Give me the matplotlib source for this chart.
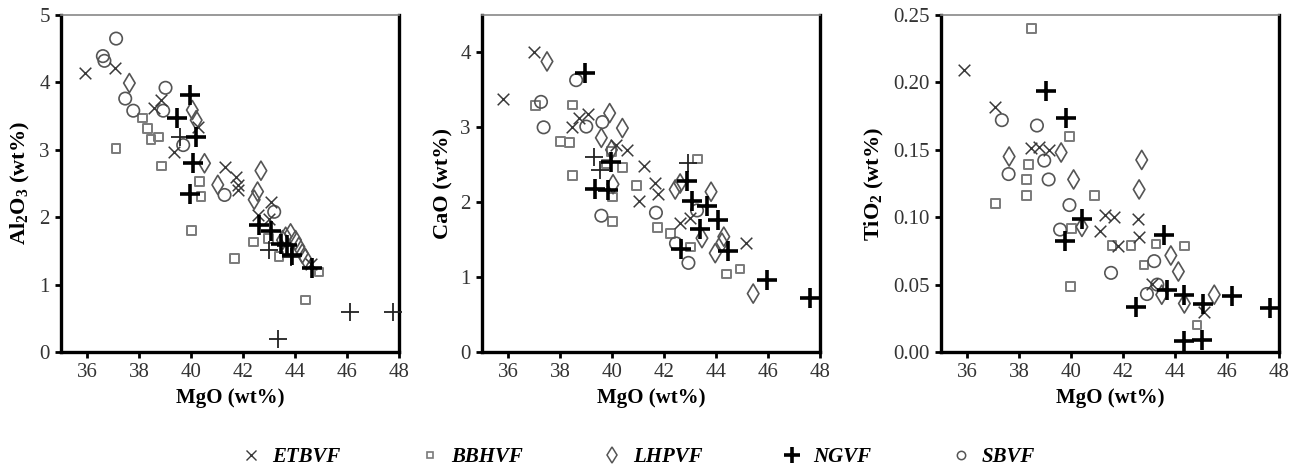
import matplotlib
matplotlib.use('Agg')
import matplotlib.pyplot as plt
from matplotlib.lines import Line2D

plt.rcParams['font.family'] = ['Liberation Serif', 'DejaVu Serif']
plt.rcParams['mathtext.fontset'] = 'custom'
plt.rcParams['mathtext.rm'] = 'Liberation Serif'
plt.rcParams['mathtext.bf'] = 'Liberation Serif:bold'

## Data ##
#-----------------------------------------------------------------------------------------------------------------------
# Panel 1: Al2O3 vs MgO
al_etbvf_mgo = [35.94, 37.06, 38.59, 38.84, 39.34, 40.27, 41.29, 41.73, 41.80, 41.80, 43.07, 42.56, 43.00, 44.60]
al_etbvf_val = [4.14, 4.21, 3.62, 3.74, 2.96, 3.34, 2.75, 2.60, 2.48, 2.40, 2.23, 2.03, 1.98, 1.30]
al_bbhvf_mgo = [38.14, 38.33, 38.46, 38.74, 38.87, 37.12, 40.33, 40.39, 40.01, 41.67, 42.41, 42.97, 43.39, 44.41, 44.92]
al_bbhvf_val = [3.47, 3.32, 3.15, 3.19, 2.76, 3.02, 2.53, 2.31, 1.80, 1.39, 1.63, 1.68, 1.42, 0.77, 1.19]
al_lhpvf_mgo = [37.63, 40.05, 40.20, 40.52, 42.69, 42.56, 42.43, 41.03, 43.83, 43.64, 44.02, 44.15, 44.28, 44.40, 43.52]
al_lhpvf_val = [3.99, 3.59, 3.44, 2.80, 2.69, 2.38, 2.26, 2.48, 1.76, 1.71, 1.66, 1.56, 1.46, 1.39, 1.66]
al_ngvf_mgo = [39.95, 39.48, 40.20, 40.07, 39.95, 42.62, 43.07, 43.45, 43.70, 43.90, 44.66]
al_ngvf_val = [3.81, 3.47, 3.19, 2.80, 2.35, 1.88, 1.79, 1.60, 1.59, 1.44, 1.24]
al_ngvf2_mgo = [39.59, 43.00, 43.36, 46.10, 47.76, 43.83]
al_ngvf2_val = [3.19, 1.51, 0.20, 0.59, 0.59, 1.41]
al_sbvf_mgo = [37.12, 36.61, 36.67, 37.47, 37.78, 39.02, 38.93, 39.70, 41.29, 43.20]
al_sbvf_val = [4.65, 4.39, 4.32, 3.76, 3.58, 3.92, 3.58, 3.07, 2.33, 2.08]

# Panel 2: CaO vs MgO
ca_etbvf_mgo = [37.01, 35.81, 38.47, 38.72, 39.07, 40.14, 40.56, 41.23, 41.65, 41.78, 41.04, 42.62, 43.00, 45.14]
ca_etbvf_val = [4.00, 3.38, 3.00, 3.12, 3.18, 2.77, 2.70, 2.48, 2.26, 2.11, 2.02, 1.72, 1.79, 1.45]
ca_bbhvf_mgo = [37.05, 38.47, 38.01, 38.36, 38.47, 39.97, 40.40, 40.01, 40.01, 40.94, 41.74, 42.26, 39.78, 43.29, 43.01, 44.40, 44.92]
ca_bbhvf_val = [3.29, 3.30, 2.81, 2.80, 2.36, 2.68, 2.46, 2.07, 1.74, 2.22, 1.66, 1.58, 2.51, 2.58, 1.40, 1.04, 1.11]
ca_lhpvf_mgo = [37.50, 39.91, 40.40, 39.59, 39.98, 40.04, 42.43, 42.62, 43.81, 43.46, 44.30, 44.23, 43.97, 45.43]
ca_lhpvf_val = [3.88, 3.19, 2.99, 2.86, 2.70, 2.24, 2.17, 2.25, 2.14, 1.52, 1.54, 1.46, 1.32, 0.78]
ca_ngvf_mgo = [38.98, 39.33, 39.84, 39.98, 42.88, 43.07, 43.65, 44.07, 43.39, 42.66, 44.45, 45.98, 47.63]
ca_ngvf_val = [3.73, 2.18, 2.16, 2.54, 2.29, 2.02, 1.95, 1.76, 1.64, 1.38, 1.35, 0.96, 0.72]
ca_ngvf2_mgo = [42.94, 39.30, 39.52]
ca_ngvf2_val = [2.52, 2.60, 2.43]
ca_sbvf_mgo = [38.62, 37.27, 37.37, 39.01, 39.63, 39.59, 41.69, 42.94, 43.27, 42.46]
ca_sbvf_val = [3.63, 3.34, 3.00, 3.01, 3.07, 1.82, 1.86, 1.19, 1.89, 1.45]

# Panel 3: TiO2 vs MgO
ti_etbvf_mgo = [35.90, 37.06, 38.46, 38.75, 39.14, 41.29, 41.67, 41.12, 42.59, 42.63, 41.82, 43.10, 45.12]
ti_etbvf_val = [0.209, 0.182, 0.151, 0.152, 0.150, 0.102, 0.100, 0.090, 0.099, 0.085, 0.079, 0.0505, 0.030]
ti_bbhvf_mgo = [38.47, 39.94, 38.37, 38.28, 38.28, 37.09, 40.90, 40.03, 39.97, 41.57, 42.30, 43.27, 44.36, 42.81, 44.84]
ti_bbhvf_val = [0.240, 0.160, 0.139, 0.128, 0.116, 0.110, 0.116, 0.0915, 0.0485, 0.079, 0.079, 0.080, 0.0786, 0.0647, 0.0199]
ti_lhpvf_mgo = [37.62, 39.62, 40.10, 40.42, 42.72, 42.62, 43.84, 44.13, 43.49, 44.36, 45.51]
ti_lhpvf_val = [0.145, 0.148, 0.128, 0.0928, 0.1425, 0.1206, 0.0716, 0.0597, 0.0425, 0.036, 0.0425]
ti_ngvf_mgo = [39.03, 39.80, 40.42, 39.78, 43.58, 42.50, 43.70, 44.35, 45.09, 46.18, 47.65, 44.35, 45.03]
ti_ngvf_val = [0.1935, 0.1737, 0.099, 0.0823, 0.0871, 0.0331, 0.046, 0.0425, 0.0356, 0.0413, 0.033, 0.0082, 0.0087]
ti_sbvf_mgo = [37.34, 38.69, 38.97, 37.60, 39.14, 39.94, 39.58, 41.54, 43.20, 43.32, 42.92]
ti_sbvf_val = [0.172, 0.168, 0.142, 0.132, 0.128, 0.109, 0.0908, 0.0587, 0.0674, 0.050, 0.043]

mgo_ticks = [36, 38, 40, 42, 44, 46, 48]
al_ticks = [0, 1, 2, 3, 4, 5]
ca_ticks = [0, 1, 2, 3, 4]
ti_ticks = [0.00, 0.05, 0.10, 0.15, 0.20, 0.25]
legend_labels = ['ETBVF', 'BBHVF', 'LHPVF', 'NGVF', 'SBVF']

## Marker styles ##
#-----------------------------------------------------------------------------------------------------------------------
styles = {
    'ETBVF': dict(marker='x', s=70, c='#3a3a3a', linewidths=1.1),
    'BBHVF': dict(marker='s', s=38, facecolors='none', edgecolors='#7a7a7a', linewidths=1.4),
    'LHPVF': dict(marker='d', s=95, facecolors='none', edgecolors='#555555', linewidths=1.2),
    'NGVF': dict(marker='+', s=190, c='black', linewidths=2.6),
    'NGVF2': dict(marker='+', s=170, c='#222222', linewidths=1.3),
    'SBVF': dict(marker='o', s=80, facecolors='none', edgecolors='#555555', linewidths=1.2),
}

figure = plt.figure(figsize=(12.99, 4.68), dpi=100)
W, H = 1299, 468

def make_axes(left_px):
    # axes box is 338 px wide, from y=15 to y=352 px
    return figure.add_axes([left_px / W, (H - 352) / H, 338 / W, 337 / H])

def style_axes(ax, yticks, ylim, ylabel, yfmt):
    ax.set_xlim(35, 48)
    ax.set_ylim(*ylim)
    ax.set_xticks(mgo_ticks)
    ax.set_yticks(yticks)
    ax.set_yticklabels([yfmt.format(v) for v in yticks])
    for side in ['left', 'bottom', 'right']:
        ax.spines[side].set_linewidth(2.4)
        ax.spines[side].set_color('black')
    ax.spines['top'].set_linewidth(1.2)
    ax.spines['top'].set_color('#888888')
    ax.tick_params(direction='out', length=4, width=2, labelsize=15, colors='black',
                   labelcolor='#333333', pad=4)
    ax.set_xlabel('MgO (wt%)', fontsize=15, fontweight='bold', labelpad=4)
    ax.set_ylabel(ylabel, fontsize=16, fontweight='bold', labelpad=5)

def draw(ax, series):
    for key, xs, ys in series:
        ax.scatter(xs, ys, clip_on=False, zorder=3, **styles[key])

ax1 = make_axes(61)
draw(ax1, [('BBHVF', al_bbhvf_mgo, al_bbhvf_val), ('LHPVF', al_lhpvf_mgo, al_lhpvf_val),
           ('SBVF', al_sbvf_mgo, al_sbvf_val), ('ETBVF', al_etbvf_mgo, al_etbvf_val),
           ('NGVF2', al_ngvf2_mgo, al_ngvf2_val), ('NGVF', al_ngvf_mgo, al_ngvf_val)])
style_axes(ax1, al_ticks, (0, 5), r'Al$_\mathbf{2}$O$_\mathbf{3}$ (wt%)', '{:d}')

ax2 = make_axes(482)
draw(ax2, [('BBHVF', ca_bbhvf_mgo, ca_bbhvf_val), ('LHPVF', ca_lhpvf_mgo, ca_lhpvf_val),
           ('SBVF', ca_sbvf_mgo, ca_sbvf_val), ('ETBVF', ca_etbvf_mgo, ca_etbvf_val),
           ('NGVF2', ca_ngvf2_mgo, ca_ngvf2_val), ('NGVF', ca_ngvf_mgo, ca_ngvf_val)])
style_axes(ax2, ca_ticks, (0, 4.5), 'CaO (wt%)', '{:d}')

ax3 = make_axes(941)
draw(ax3, [('BBHVF', ti_bbhvf_mgo, ti_bbhvf_val), ('LHPVF', ti_lhpvf_mgo, ti_lhpvf_val),
           ('SBVF', ti_sbvf_mgo, ti_sbvf_val), ('ETBVF', ti_etbvf_mgo, ti_etbvf_val),
           ('NGVF', ti_ngvf_mgo, ti_ngvf_val)])
style_axes(ax3, ti_ticks, (0, 0.25), r'TiO$_\mathbf{2}$ (wt%)', '{:.2f}')

# Legend along the bottom
handles = [
    Line2D([], [], ls='none', marker='x', ms=7, mew=1.0, color='#3a3a3a'),
    Line2D([], [], ls='none', marker='s', ms=5, mew=1.2, mfc='none', mec='#7a7a7a'),
    Line2D([], [], ls='none', marker='d', ms=8, mew=1.1, mfc='none', mec='#555555'),
    Line2D([], [], ls='none', marker='+', ms=12, mew=2.6, color='black'),
    Line2D([], [], ls='none', marker='o', ms=6, mew=1.1, mfc='none', mec='#555555'),
]
figure.legend(handles, legend_labels, loc='center', bbox_to_anchor=(0.491, (H - 457) / H), ncol=5,
              frameon=False, handlelength=1.0, handletextpad=0.5, columnspacing=3.8,
              prop={'family': 'Liberation Serif', 'weight': 'bold', 'style': 'italic', 'size': 15})

figure.savefig('out.png', dpi=100)
